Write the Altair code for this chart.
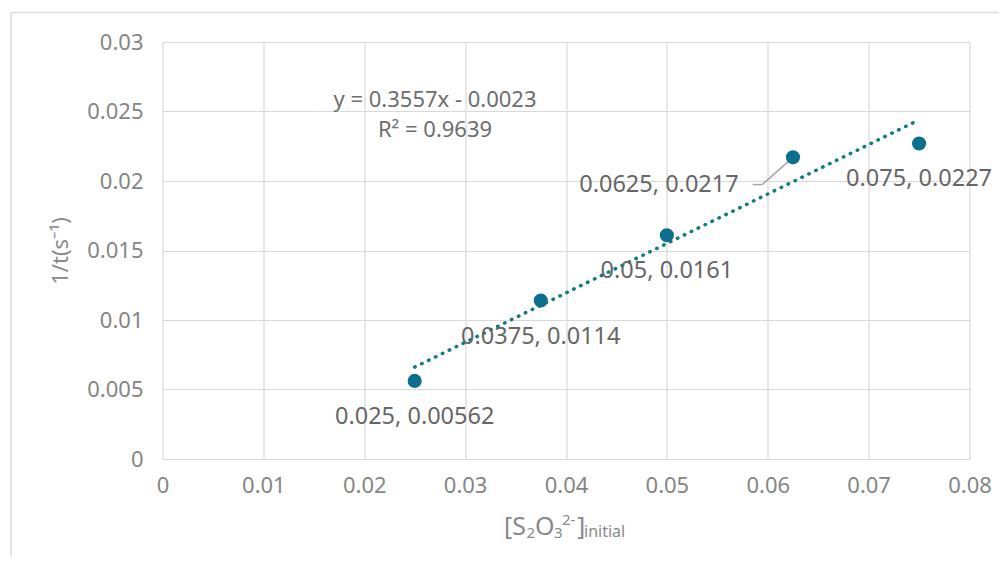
import altair as alt
import pandas as pd

# ---- data ----
conc = [0.025, 0.0375, 0.05, 0.0625, 0.075]
rate = [0.00562, 0.0114, 0.0161, 0.0217, 0.0227]
x_ticks = [0, 0.01, 0.02, 0.03, 0.04, 0.05, 0.06, 0.07, 0.08]
y_ticks = [0, 0.005, 0.01, 0.015, 0.02, 0.025, 0.03]
equation = "y = 0.3557x - 0.0023"
r_squared = "R² = 0.9639"
y_title = "1/t(s⁻¹)"

FONT = "Noto Sans"
W, H = 807, 417

df = pd.DataFrame({"x": conc, "y": rate})
df["label"] = [f"{a:g}, {b:g}" for a, b in zip(conc, rate)]
one = pd.DataFrame({"k": [0]})

xs = alt.Scale(domain=[0, 0.08], nice=False, zero=False)
ys = alt.Scale(domain=[0, 0.03], nice=False, zero=False)

xaxis = alt.Axis(values=x_ticks, format="~g", grid=True, gridColor="#d9d9d9", gridWidth=1.2,
                 domain=False, ticks=False, tickSize=0, labelFont=FONT, labelFontSize=22,
                 labelColor="#858585", labelPadding=26, labelBaseline="middle",
                 labelFlush=False, labelOverlap=False, title=None)
yaxis = alt.Axis(values=y_ticks, format="~g", grid=True, gridColor="#d9d9d9", gridWidth=1.2,
                 domain=False, ticks=False, tickSize=0, labelFont=FONT, labelFontSize=22,
                 labelColor="#858585", labelPadding=19.5, labelFlush=False, labelOverlap=False,
                 title=y_title, titleFont=FONT,
                 titleFontSize=22, titleFontWeight="normal", titleColor="#8a8a8a",
                 titleX=-102.5, titleY=H / 2, titleAlign="center", titleBaseline="middle",
                 titleAngle=270)

base = alt.Chart(df)
X = alt.X("x:Q", scale=xs, axis=xaxis)
Y = alt.Y("y:Q", scale=ys, axis=yaxis)

trend = base.transform_regression("x", "y", extent=[0.025, 0.075]).mark_line(
    color="#137A86", strokeWidth=3.5, strokeDash=[0.5, 7.2], strokeCap="round"
).encode(x=alt.X("x:Q", scale=xs), y=alt.Y("y:Q", scale=ys))

leader = base.transform_filter("datum.x == 0.0625").mark_rule(
    color="#a6a6a6", strokeWidth=1.5
).encode(x=alt.X("x:Q", scale=xs), y=alt.Y("y:Q", scale=ys),
         x2=alt.value(599.8), y2=alt.value(142.6))
leader2 = base.transform_filter("datum.x == 0.0625").mark_rule(
    color="#a6a6a6", strokeWidth=1.5
).encode(x=alt.value(590.2), x2=alt.value(599.8), y=alt.value(142.6))

points = base.mark_circle(size=200, opacity=1, color="#0E6E8E").encode(x=X, y=Y)

labels = base.transform_filter("datum.x != 0.0625").mark_text(
    font=FONT, fontSize=23.5, color="#666666", dy=36, baseline="middle"
).encode(x=alt.X("x:Q", scale=xs), y=alt.Y("y:Q", scale=ys), text="label:N")
label_moved = base.transform_filter("datum.x == 0.0625").mark_text(
    font=FONT, fontSize=23.5, color="#666666", dx=-134, dy=28, baseline="middle"
).encode(x=alt.X("x:Q", scale=xs), y=alt.Y("y:Q", scale=ys), text="label:N")

def txt(s, x, y, size, color, align="center", baseline="middle"):
    return alt.Chart(one).mark_text(text=s, font=FONT, fontSize=size, color=color,
                                    align=align, baseline=baseline).encode(
        x=alt.value(x), y=alt.value(y))

eq1 = txt(equation, 272.5, 58.3, 22, "#6e6e6e")
eq2 = txt(r_squared, 272.5, 88.3, 22, "#6e6e6e")

tc = "#8a8a8a"
xt = [
    txt("[S", 341.5, 493.3, 25, tc, "left", "alphabetic"),
    txt("2", 364.0, 496.3, 15, tc, "left", "alphabetic"),
    txt("O", 372.5, 493.3, 25, tc, "left", "alphabetic"),
    txt("3", 391.5, 496.3, 15, tc, "left", "alphabetic"),
    txt("2-", 399.5, 483.3, 15, tc, "left", "alphabetic"),
    txt("]", 414.5, 493.3, 25, tc, "left", "alphabetic"),
    txt("initial", 421.5, 495.3, 16, tc, "left", "alphabetic"),
]

border_v = alt.Chart(one).mark_rule(color="#dcdcdc", strokeWidth=1.5).encode(
    x=alt.value(-151.5), y=alt.value(-29.5), y2=alt.value(600))
border_h = alt.Chart(one).mark_rule(color="#dcdcdc", strokeWidth=1.5).encode(
    x=alt.value(-151.5), x2=alt.value(900), y=alt.value(-29.5))

chart = alt.layer(
    border_v, border_h, trend, leader, leader2, points, labels, label_moved, eq1, eq2, *xt
).properties(
    width=W, height=H,
    autosize=alt.AutoSizeParams(type="none"),
    padding={"left": 154.5, "top": 34, "right": 28, "bottom": 98},
    background="white",
).configure_view(stroke=None)

chart.save("out.html", embed_options={"renderer": "svg", "actions": False})
